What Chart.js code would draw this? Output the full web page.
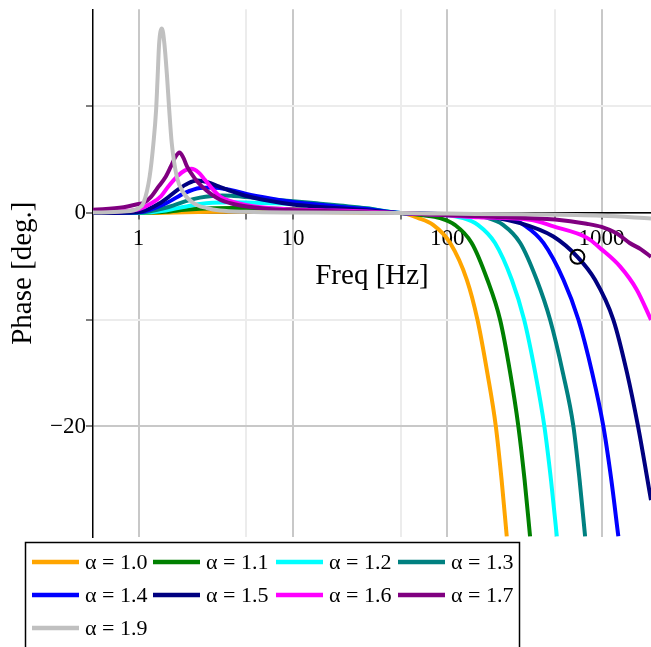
<!DOCTYPE html>
<html><head><meta charset="utf-8">
<script src="https://cdn.jsdelivr.net/npm/chart.js@4/dist/chart.umd.min.js"></script>
<style>html,body{margin:0;padding:0;background:#fff;}</style>
</head><body>
<canvas id="c" width="651" height="647"></canvas>
<script>
// ---- data ----
const seriesLabels = ["α = 1.0","α = 1.1","α = 1.2","α = 1.3","α = 1.4","α = 1.5","α = 1.6","α = 1.7","α = 1.9"];
const seriesColors = ["#FFA500","#008000","#00FFFF","#008080","#0000FF","#000080","#FF00FF","#800080","#C0C0C0"];

const freq10 = [0.5,1,1.5,2,3,5,10,20,35,50,65,81,104.5,134,157,182,206.5,225,243];
const phase10 = [0,0,0.03,0.08,0.12,0.15,0.12,0.08,0.04,0,-0.47,-1.1,-2.8,-6.25,-10,-15,-20,-25,-30.3];

const freq11 = [0.5,1,1.5,2,2.5,3,4,5,7,10,15,20,30,50,70,90,112,144,182,220,256,289,317,344];
const phase11 = [0,0.01,0.12,0.3,0.4,0.45,0.48,0.47,0.42,0.35,0.27,0.21,0.12,0,-0.2,-0.47,-1.1,-2.8,-6.25,-10,-15,-20,-25,-30.3];

const freq12 = [0.5,1,1.5,2,2.5,3,4,5,7,10,15,20,30,50,90,127,158,204,262,315,372,426,470,513];
const phase12 = [0,0.03,0.25,0.6,0.85,0.97,1.02,1.0,0.93,0.85,0.72,0.62,0.42,0,-0.15,-0.47,-1.1,-2.8,-6.25,-10,-15,-20,-25,-30.3];

const freq13 = [0.5,1,1.5,2,2.5,3,3.5,4,5,7,10,15,20,30,50,120,184,230,297,380,464,562,657,720,782];
const phase13 = [0,0.05,0.5,1.1,1.45,1.6,1.65,1.62,1.5,1.3,1.12,0.88,0.7,0.45,0,-0.15,-0.47,-1.1,-2.8,-6.25,-10,-15,-20,-25,-30.3];

const freq14 = [0.5,1,1.5,2,2.5,3,4,5,7,10,15,20,30,50,150,250,320,420,566,708,870,1027,1156,1284];
const phase14 = [0,0.07,0.9,1.9,2.35,2.4,2.15,1.8,1.4,1.05,0.78,0.6,0.38,0,-0.15,-0.5,-1.2,-2.8,-6.25,-10,-15,-20,-25,-30.3];

const freq15 = [0.5,1,1.4,1.8,2.1,2.4,2.8,3.3,4,5,7,10,15,20,30,50,150,297,487,697,907,1192,1463,1723,2090];
const phase15 = [0,0.1,1.0,2.2,2.8,3.05,2.9,2.5,2.05,1.6,1.15,0.8,0.58,0.45,0.27,0,-0.2,-0.94,-2.2,-4.1,-6.25,-10,-15,-20,-26.9];

const freq16 = [0.5,0.8,1,1.22,1.4,1.56,1.8,2.0,2.2,2.45,2.7,3.0,3.38,4,5.5,9.1,15,24.5,50,100,160,344,488,801,1000,1316,1693,2090];
const phase16 = [0.1,0.2,0.35,0.94,1.6,2.5,3.5,4.0,4.15,3.8,3.1,2.3,1.55,1.1,0.65,0.37,0.27,0.2,0,-0.2,-0.4,-0.63,-1.25,-2.3,-3.4,-5.0,-7.2,-10.0];

const freq17 = [0.5,0.8,1,1.077,1.2,1.35,1.5,1.62,1.74,1.84,1.95,2.06,2.3,2.57,3.0,3.38,4,5.03,6.5,8.27,10,20,30,50,100,200,500,800,1000,1250,1520,1800,2090];
const phase17 = [0.3,0.55,0.85,0.94,1.5,2.5,3.4,4.37,5.3,5.68,5.2,4.37,3.3,2.5,1.7,1.25,0.9,0.62,0.42,0.31,0.27,0.15,0.08,0,-0.2,-0.35,-0.6,-1.0,-1.3,-1.9,-2.8,-3.4,-4.1];

const freq19 = [0.5,0.8,1.0,1.077,1.18,1.25,1.30,1.33,1.36,1.418,1.47,1.53,1.58,1.64,1.77,1.96,2.27,2.77,3.38,5,10,50,100,300,1000,2090];
const phase19 = [0.05,0.15,0.45,0.94,3.4,6.6,9.7,12.8,15.9,17.3,15.9,12.8,9.7,6.6,3.4,1.87,0.94,0.47,0.24,0.12,0.05,0,-0.05,-0.12,-0.25,-0.5];

const markerFreq = [697];
const markerPhase = [-4.1];

const xTickValues = [1,5,10,50,100,500,1000];
const xTickLabels = ["1","","10","","100","","1000"];
const yTickValues = [-20,-10,0,10];
const yTickLabels = ["−20","","0",""];

// ---- build ----
const freqs = [freq10,freq11,freq12,freq13,freq14,freq15,freq16,freq17,freq19];
const phases = [phase10,phase11,phase12,phase13,phase14,phase15,phase16,phase17,phase19];
const toPts = (xs, ys) => xs.map((x,i)=>({x:x, y:ys[i]}));

const datasets = freqs.map((f,i)=>({
  label: seriesLabels[i],
  data: toPts(f, phases[i]),
  borderColor: seriesColors[i],
  backgroundColor: seriesColors[i],
  borderWidth: 4,
  pointRadius: 0,
  cubicInterpolationMode: 'monotone',
  fill: false,
  order: 20 - i,
  inLegend: true
}));
datasets.push({
  label: 'marker',
  data: toPts(markerFreq, markerPhase),
  showLine: false,
  pointRadius: 7,
  pointStyle: 'circle',
  borderColor: '#000',
  backgroundColor: 'rgba(0,0,0,0)',
  pointBorderWidth: 2,
  borderWidth: 2,
  order: 0,
  inLegend: false
});

const legendPlugin = {
  id: 'boxLegend',
  afterDraw(chart){
    const c = chart.ctx;
    c.save();
    c.strokeStyle = '#000'; c.lineWidth = 1.5;
    c.strokeRect(25.5, 542.5, 494, 130);
    const colX = [32,153,276,398];
    const rowY = [562,595,628];
    chart.data.datasets.filter(d=>d.inLegend).forEach((d,i)=>{
      const x = colX[i%4], y = rowY[Math.floor(i/4)];
      c.strokeStyle = d.borderColor; c.lineWidth = 4.5;
      c.beginPath(); c.moveTo(x,y); c.lineTo(x+47,y); c.stroke();
      c.fillStyle = '#000';
      c.font = '22px "Liberation Serif"';
      c.textBaseline = 'middle';
      c.fillText(d.label, x+53, y+1);
    });
    c.restore();
  }
};

const majorX = v => [1,10,100,1000].includes(v);
const majorY = v => v === 0 || v === -20;

new Chart(document.getElementById('c'), {
  type: 'line',
  data: { datasets },
  options: {
    responsive: false,
    animation: false,
    devicePixelRatio: 1,
    layout: { autoPadding: false, padding: { top: 9.3, bottom: 110, left: 0, right: 0 } },
    plugins: { legend: { display: false }, tooltip: { enabled: false } },
    scales: {
      x: {
        type: 'logarithmic',
        position: { y: 0 },
        min: 0.507, max: 2090,
        afterBuildTicks: s => { s.ticks = xTickValues.map(v=>({value:v})); },
        ticks: {
          autoSkip: false, maxRotation: 0, padding: 6,
          color: '#000',
          font: { family: '"Liberation Serif"', size: 23 },
          callback: (v) => { const k = xTickValues.indexOf(v); return k>=0 ? xTickLabels[k] : ''; }
        },
        grid: {
          color: ctx => majorX(ctx.tick.value) ? '#c8c8c8' : '#ececec',
          lineWidth: 2,
          tickColor: '#000', tickLength: 6, tickWidth: 1
        },
        border: { color: '#000', width: 1.5 },
        title: {
          display: true, text: 'Freq [Hz]', color: '#000',
          font: { family: '"Liberation Serif"', size: 29 },
          padding: { top: 0, bottom: 0 }
        }
      },
      y: {
        type: 'linear',
        position: 'left',
        min: -30.36, max: 19.1,
        afterFit: s => { s.width = 93; s.paddingTop = 0; s.paddingBottom = 0; },
        afterBuildTicks: s => { s.ticks = yTickValues.map(v=>({value:v})); },
        ticks: {
          autoSkip: false, padding: 0, color: '#000',
          font: { family: '"Liberation Serif"', size: 23 },
          callback: (v) => { const k = yTickValues.indexOf(v); return k>=0 ? yTickLabels[k] : ''; }
        },
        grid: {
          color: ctx => majorY(ctx.tick.value) ? '#c8c8c8' : '#ececec',
          lineWidth: 2,
          tickColor: '#000',
          tickLength: 7, tickWidth: 1
        },
        border: { color: '#000', width: 1.5 },
        title: {
          display: true, text: 'Phase [deg.]', color: '#000',
          font: { family: '"Liberation Serif"', size: 29 },
          padding: { top: 6, bottom: 0 }
        }
      }
    }
  },
  plugins: [legendPlugin]
});
</script>
</body></html>
